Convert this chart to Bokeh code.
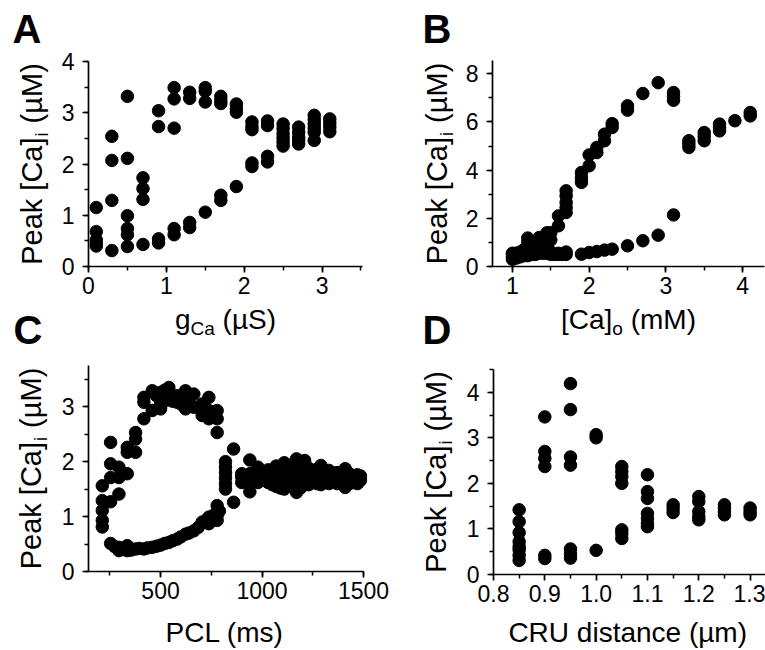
from bokeh.plotting import figure
from bokeh.layouts import column, row
from bokeh.models import Range1d, SingleIntervalTicker, FixedTicker, LinearAxis
from bokeh.core.properties import value
from bokeh.embed import file_html
from bokeh.resources import INLINE

# ---------------- data ----------------
# Panel A: g_Ca (uS) vs peak [Ca]i (uM)
gca_levels = [0.1, 0.3, 0.5, 0.7, 0.9, 1.1, 1.3, 1.5, 1.7, 1.9, 2.1, 2.3, 2.5, 2.7, 2.9, 3.1]
gca_peaks = [
    [1.15, 0.68, 0.52, 0.45, 0.40],
    [2.54, 2.07, 1.29, 0.31],
    [3.32, 2.11, 0.99, 0.74, 0.62, 0.39],
    [1.73, 1.52, 1.31, 0.43],
    [3.04, 2.73, 0.54, 0.46],
    [3.49, 3.27, 2.70, 0.74, 0.62],
    [3.40, 3.28, 0.86, 0.76],
    [3.49, 3.42, 3.21, 1.06],
    [3.32, 3.24, 3.18, 1.39, 1.29],
    [3.17, 3.08, 3.01, 1.56],
    [2.82, 2.73, 2.67, 2.02, 1.95],
    [2.84, 2.75, 2.15, 2.04],
    [2.78, 2.69, 2.59, 2.51, 2.43, 2.35],
    [2.72, 2.62, 2.52, 2.46, 2.39],
    [2.95, 2.86, 2.78, 2.70, 2.62, 2.46],
    [2.88, 2.80, 2.72, 2.63],
]

# Panel B: [Ca]o (mM) vs peak [Ca]i (uM)
cao_levels = [1.0, 1.05, 1.1, 1.15, 1.2, 1.25, 1.3, 1.35, 1.4, 1.45, 1.5, 1.55, 1.6, 1.65, 1.7,
              1.9, 2.0, 2.1, 2.2, 2.3, 2.5, 2.7, 2.9, 3.1, 3.3, 3.5, 3.7, 3.9, 4.1]
cao_peaks = [
    [0.30, 0.40, 0.50, 0.55],
    [0.35, 0.45, 0.55],
    [0.40, 0.50, 0.60],
    [0.45, 0.55, 0.70],
    [0.45, 0.60, 0.80, 1.00, 1.18],
    [0.50, 0.65, 0.85],
    [0.50, 0.70, 0.90, 1.00],
    [0.55, 0.75, 0.95, 1.20],
    [0.55, 0.80, 1.00, 1.20],
    [0.55, 0.85, 1.10, 1.40],
    [0.50, 0.60, 1.10, 1.40],
    [0.50],
    [0.50, 0.55, 1.69, 2.10],
    [0.50],
    [0.50, 0.60, 2.24, 2.45, 2.66, 2.93, 3.14],
    [0.51, 3.49, 3.69, 3.90],
    [0.58, 4.18, 4.63],
    [0.62, 4.73, 4.94],
    [0.68, 5.22, 5.49],
    [0.72, 5.77, 5.93],
    [0.86, 6.49, 6.67],
    [1.07, 7.18],
    [1.30, 7.63],
    [2.14, 6.90, 7.05, 7.22],
    [4.94, 5.08, 5.22],
    [5.22, 5.40, 5.56],
    [5.63, 5.77, 5.91],
    [6.05],
    [6.25, 6.39],
]

# Panel C: PCL (ms) vs peak [Ca]i (uM)
pcl_levels = [213, 254, 275, 295, 315, 336, 355, 377, 395, 418, 435, 459, 480, 500, 520, 541,
              560, 582, 600, 623, 640, 664, 685, 705, 720, 738, 760, 779, 790,
              820, 860, 900, 940, 980,
              1030, 1050, 1070, 1090, 1110, 1130, 1150, 1170, 1190, 1210, 1230, 1250,
              1270, 1290, 1310, 1330, 1350, 1370, 1390, 1410, 1430, 1450, 1470, 1485]
pcl_peaks = [
    [1.56, 1.29, 1.11, 0.93, 0.81],
    [2.35, 1.96, 1.71, 1.27, 0.51],
    [0.45],
    [1.90, 1.71, 1.41, 0.38, 0.44],
    [0.40],
    [2.26, 2.17, 1.78, 0.38, 0.47],
    [0.39],
    [2.53, 2.41, 2.17, 0.41],
    [0.42],
    [3.17, 3.08, 2.78, 0.41],
    [0.43],
    [3.29, 2.93, 0.44],
    [3.20, 0.46],
    [3.26, 3.05, 2.96, 0.48],
    [3.10, 3.30, 0.51],
    [3.35, 3.14, 0.53],
    [3.10, 0.56],
    [3.20, 3.08, 0.59],
    [3.05, 3.15, 0.63],
    [3.29, 3.14, 2.96, 0.68],
    [3.00, 3.10, 0.70],
    [3.23, 2.99, 0.74],
    [0.80],
    [3.05, 2.84, 0.90],
    [0.92],
    [3.17, 2.93, 2.78, 0.99, 0.87],
    [1.02],
    [2.93, 2.78, 2.53, 1.20, 1.02, 0.93],
    [1.10],
    [1.50, 1.60, 1.70, 1.80, 1.90, 2.00],
    [2.23, 1.26],
    [1.62, 1.72, 1.78],
    [2.03, 1.78, 1.62, 1.45],
    [1.90, 1.75, 1.62],
    [1.85, 1.72, 1.62],
    [1.78, 1.66, 1.58],
    [1.92, 1.75, 1.55],
    [1.88, 1.70, 1.52],
    [1.98, 1.80, 1.62, 1.50],
    [1.90, 1.72, 1.60],
    [1.85, 1.68, 1.55],
    [2.05, 1.72, 1.44],
    [1.95, 1.80, 1.65, 1.52],
    [2.02, 1.75, 1.60],
    [1.88, 1.70, 1.58],
    [1.82, 1.74, 1.62],
    [1.86, 1.70, 1.60],
    [1.93, 1.72, 1.58],
    [1.80, 1.68, 1.62],
    [1.84, 1.72, 1.60],
    [1.78, 1.70, 1.64],
    [1.80, 1.68, 1.60],
    [1.76, 1.70, 1.62],
    [1.87, 1.72, 1.53],
    [1.78, 1.68, 1.60],
    [1.74, 1.70, 1.62],
    [1.76, 1.68, 1.60],
    [1.74, 1.66],
]

# Panel D: CRU distance (um) vs peak [Ca]i (uM)
cru_levels = [0.85, 0.90, 0.95, 1.00, 1.05, 1.10, 1.15, 1.20, 1.25, 1.30]
cru_peaks = [
    [1.42, 1.16, 0.92, 0.72, 0.61, 0.54, 0.42, 0.31],
    [3.46, 2.70, 2.55, 2.37, 0.42, 0.35],
    [4.19, 3.62, 2.58, 2.40, 0.56, 0.45, 0.36],
    [3.07, 3.00, 0.53],
    [2.37, 2.26, 2.15, 2.00, 0.98, 0.90, 0.79],
    [2.19, 1.82, 1.67, 1.34, 1.23, 1.12, 1.05],
    [1.53, 1.45, 1.36],
    [1.71, 1.60, 1.38, 1.27, 1.20],
    [1.53, 1.45, 1.38, 1.31],
    [1.46, 1.38, 1.31],
]

# ---------------- helpers ----------------
FONT = "Liberation Sans"
ADV = {'P': .667, 'e': .556, 'a': .556, 'k': .5, ' ': .278, '[': .278, ']': .278, 'C': .722,
       '(': .333, ')': .333, '\u00b5': .576, 'M': .833, 'i': .222, 'g': .556, 'S': .667,
       'm': .833, 'o': .556}
SHIFT = 0.4  # measured offset of bokeh's text baseline, in em


def tw(s, size):
    return sum(ADV.get(c, .556) for c in s) * size


def flat(levels, groups):
    xs, ys = [], []
    for x, g in zip(levels, groups):
        for y in g:
            xs.append(x)
            ys.append(y)
    return xs, ys


def style_axis(ax):
    ax.axis_line_width = 1.7
    ax.axis_line_color = "black"
    ax.major_tick_line_width = 1.7
    ax.minor_tick_line_width = 1.5
    ax.major_tick_line_color = "black"
    ax.minor_tick_line_color = "black"
    ax.major_tick_in = 0
    ax.major_tick_out = 6
    ax.minor_tick_in = 0
    ax.minor_tick_out = 4
    ax.major_label_text_font = FONT
    ax.major_label_text_font_size = "23px"
    ax.major_label_text_color = "black"


class Panel:
    """A figure whose frame fills its whole canvas; the axes sit at fixed locations
    so that the axis box occupies the pixel rectangle `frame` of the page."""

    def __init__(self, canvas, frame, xr, yr, xticker, yticker):
        cx, cy, w, h = canvas
        fl, fr, ft, fb = frame
        self.frame, self.xr, self.yr = frame, xr, yr
        sx = (fr - fl) / (xr[1] - xr[0])
        sy = (fb - ft) / (yr[1] - yr[0])
        x_start = xr[0] + (cx - fl) / sx
        x_end = xr[0] + (cx + w - fl) / sx
        y_start = yr[0] - (cy + h - fb) / sy
        y_end = yr[0] + (fb - cy) / sy
        p = figure(width=w, height=h, output_backend="svg", toolbar_location=None,
                   x_range=Range1d(x_start, x_end), y_range=Range1d(y_start, y_end),
                   x_axis_location=None, y_axis_location=None,
                   min_border=0, min_border_left=0, min_border_right=0,
                   min_border_top=0, min_border_bottom=0)
        p.xgrid.visible = False
        p.ygrid.visible = False
        p.outline_line_color = None
        p.background_fill_color = "white"
        p.border_fill_color = "white"
        xa = LinearAxis(fixed_location=yr[0], bounds=xr, ticker=xticker)
        ya = LinearAxis(fixed_location=xr[0], bounds=yr, ticker=yticker)
        style_axis(xa)
        style_axis(ya)
        xa.major_label_standoff = 4
        ya.major_label_standoff = 8
        p.add_layout(xa, "below")
        p.add_layout(ya, "left")
        self.p, self.xa, self.ya = p, xa, ya
        self.sx, self.sy = sx, sy

    def dx(self, gx):
        return self.xr[0] + (gx - self.frame[0]) / self.sx

    def dy(self, gy):
        return self.yr[0] + (self.frame[3] - gy) / self.sy

    def text(self, gx, gy, s, size, bold=False, vertical=False):
        # gx, gy: start of the text's baseline, in page pixels
        if vertical:
            gx -= SHIFT * size
        else:
            gy -= SHIFT * size
        self.p.text(x=[self.dx(gx)], y=[self.dy(gy)], text=[s],
                    angle=1.5707963267948966 if vertical else 0.0,
                    text_font=value(FONT), text_font_size=f"{size}px",
                    text_font_style="bold" if bold else "normal",
                    text_color="black", text_align="left", text_baseline="alphabetic")

    def hlabel(self, cx, base, segs):
        total = sum(tw(s, sz) + gap for s, sz, _, gap in segs)
        x = cx - total / 2
        for s, sz, off, gap in segs:
            lead = len(s) - len(s.lstrip(" "))
            self.text(x + tw(s[:lead], sz), base + off, s.lstrip(" "), sz)
            x += tw(s, sz) + gap

    def vlabel(self, base, cy, segs):
        total = sum(tw(s, sz) + gap for s, sz, _, gap in segs)
        y = cy + total / 2
        for s, sz, off, gap in segs:
            lead = len(s) - len(s.lstrip(" "))
            self.text(base + off, y - tw(s[:lead], sz), s.lstrip(" "), sz, vertical=True)
            y -= tw(s, sz) + gap


YLAB = [("Peak [Ca]", 29, 0, 1), ("i", 18, 6, 1), (" (\u00b5M)", 29, 0, 0)]

# ---------------- panels ----------------
A = Panel((0, 0, 382, 305), (88, 362, 61, 266), (0, 3.52), (0, 4),
          SingleIntervalTicker(interval=1, num_minor_ticks=2),
          SingleIntervalTicker(interval=1, num_minor_ticks=2))
B = Panel((382, 0, 383, 305), (492, 764, 60, 266), (0.74, 4.286), (0, 8.55),
          SingleIntervalTicker(interval=1, num_minor_ticks=2),
          SingleIntervalTicker(interval=2, num_minor_ticks=2))
C = Panel((0, 305, 400, 345), (88, 363, 365, 571), (145, 1500), (0, 3.75),
          SingleIntervalTicker(interval=500, num_minor_ticks=2),
          SingleIntervalTicker(interval=1, num_minor_ticks=2))
D = Panel((400, 305, 365, 345), (493, 765, 369, 574), (0.8, 1.33), (0, 4.5),
          FixedTicker(ticks=[0.8, 0.9, 1.0, 1.1, 1.2, 1.3],
                      minor_ticks=[0.85, 0.95, 1.05, 1.15, 1.25]),
          SingleIntervalTicker(interval=1, num_minor_ticks=2))
D.xa.major_label_overrides = {0.8: "0.8", 0.9: "0.9", 1.0: "1.0", 1.1: "1.1",
                              1.2: "1.2", 1.3: "1.3"}

for P, lv, pk in ((A, gca_levels, gca_peaks), (B, cao_levels, cao_peaks),
                  (C, pcl_levels, pcl_peaks), (D, cru_levels, cru_peaks)):
    xs, ys = flat(lv, pk)
    P.p.scatter(xs, ys, size=12.5, marker="circle", fill_color="black", line_color="black")

# panel letters
A.text(12, 44, "A", 40, bold=True)
B.text(422, 44, "B", 40, bold=True)
C.text(13, 345, "C", 40, bold=True)
D.text(422, 345, "D", 40, bold=True)

# y axis labels
A.vlabel(43, 163.5, YLAB)
B.vlabel(448, 163, YLAB)
C.vlabel(42, 468, YLAB)
D.vlabel(447, 471.5, YLAB)

# x axis labels
C.hlabel(225, 330, [("g", 28, 0, 0), ("Ca", 19, 6, 0), (" (\u00b5S)", 28, 0, 0)])
D.hlabel(628, 330, [("[Ca]", 28, 0, 0), ("o", 19, 6, 0), (" (mM)", 28, 0, 0)])
C.hlabel(225, 643, [("PCL (ms)", 28, 0, 0)])
D.hlabel(628, 643, [("CRU distance (\u00b5m)", 28, 0, 0)])

layout = column(row(A.p, B.p), row(C.p, D.p))
open("out.html", "w").write(file_html(layout, INLINE))
